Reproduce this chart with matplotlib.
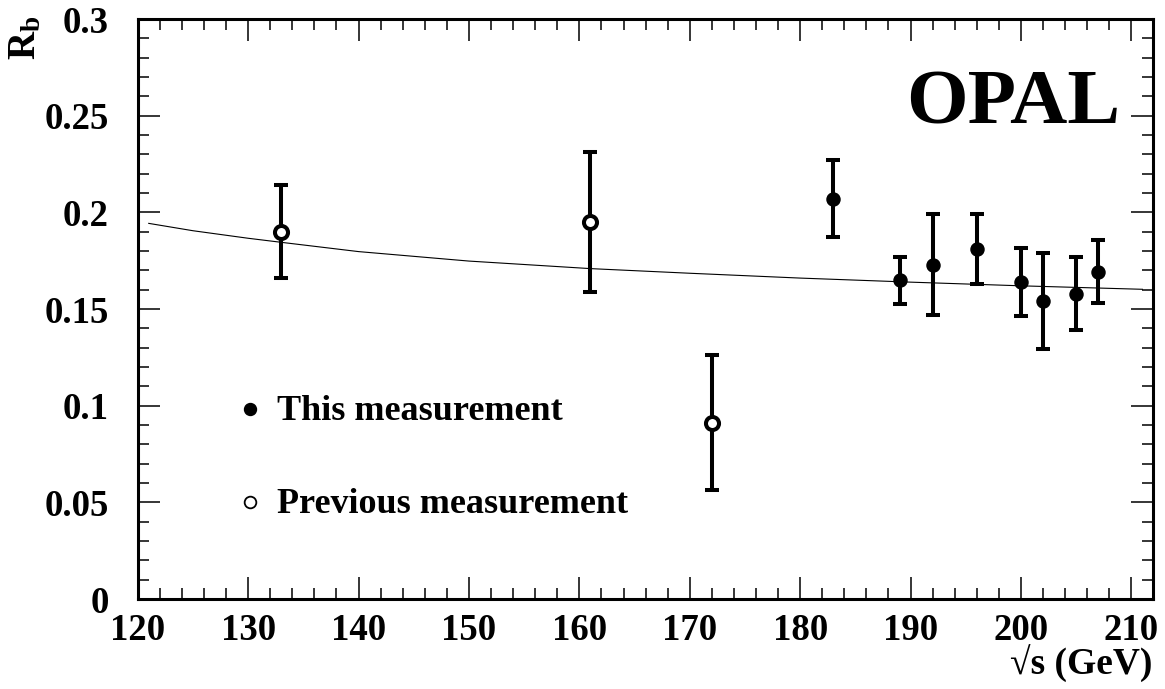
import numpy as np
import matplotlib.pyplot as plt
from matplotlib.ticker import MultipleLocator

plt.rcParams['font.family'] = ['Liberation Serif', 'DejaVu Serif']
plt.rcParams['font.weight'] = 'bold'
plt.rcParams['mathtext.fontset'] = 'custom'
plt.rcParams['mathtext.rm'] = 'Liberation Serif:bold'
plt.rcParams['mathtext.bf'] = 'Liberation Serif:bold'
plt.rcParams['mathtext.it'] = 'Liberation Serif:bold'

# previous OPAL measurements (open circles)
prev_x = [133, 161, 172]
prev_y = [0.190, 0.195, 0.091]
prev_lo = [0.166, 0.159, 0.0565]
prev_hi = [0.214, 0.231, 0.126]

# this measurement (filled)
new_x = [183, 189, 192, 196, 200, 202, 205, 207]
new_y = [0.207, 0.165, 0.173, 0.181, 0.164, 0.154, 0.158, 0.169]
new_lo = [0.187, 0.1525, 0.147, 0.163, 0.1465, 0.1295, 0.139, 0.153]
new_hi = [0.227, 0.177, 0.199, 0.199, 0.1815, 0.179, 0.177, 0.1855]

# SM prediction curve
sm_x = [121, 125, 130, 133, 140, 150, 161, 170, 180, 190, 200, 211]
sm_y = [0.1943, 0.1905, 0.1866, 0.1845, 0.1797, 0.1748, 0.1709, 0.1685, 0.1660, 0.1639, 0.1620, 0.1602]

fig = plt.figure(figsize=(11.65, 6.89), dpi=100)
ax = fig.add_axes([0.1182, 0.1306, 0.8719, 0.8418])

ax.plot(sm_x, sm_y, color='black', lw=0.8, zorder=2)

def yerr(y, lo, hi):
    return [np.array(y) - np.array(lo), np.array(hi) - np.array(y)]

ax.errorbar(prev_x, prev_y, yerr=yerr(prev_y, prev_lo, prev_hi), fmt='o',
            color='black', mfc='white', mec='black', ms=9.4, mew=2.9,
            elinewidth=2.9, capsize=5, capthick=2.9, zorder=3)
ax.errorbar(new_x, new_y, yerr=yerr(new_y, new_lo, new_hi), fmt='o',
            color='black', ms=9.4, elinewidth=2.9, capsize=5, capthick=2.9,
            zorder=3)

# legend drawn by hand like the original
ax.plot([130.2], [0.0983], 'o', color='black', ms=8.6)
ax.plot([130.2], [0.0503], 'o', mfc='white', mec='black', ms=8.4, mew=1.3)
ax.text(132.6, 0.0926, 'This measurement', fontsize=26, fontweight='bold')
ax.text(132.6, 0.0443, 'Previous measurement', fontsize=26, fontweight='bold')

ax.text(209.0, 0.246, 'OPAL', fontsize=57, fontweight='bold', ha='right', va='baseline')

ax.set_xlim(120, 212)
ax.set_ylim(0, 0.3)
ax.xaxis.set_major_locator(MultipleLocator(10))
ax.xaxis.set_minor_locator(MultipleLocator(2))
ax.yaxis.set_major_locator(MultipleLocator(0.05))
ax.yaxis.set_minor_locator(MultipleLocator(0.01))
ax.set_yticks([0, 0.05, 0.1, 0.15, 0.2, 0.25, 0.3])
ax.set_yticklabels(['0', '0.05', '0.1', '0.15', '0.2', '0.25', '0.3'])
ax.set_xticks(range(120, 211, 10))

ax.tick_params(which='both', direction='in', top=True, right=True, width=1.1,
               labelsize=26.5)
ax.tick_params(which='major', length=15.8)
ax.tick_params(which='minor', length=7.9)
ax.tick_params(axis='x', pad=10)
ax.tick_params(axis='y', pad=21)
for lbl in ax.get_xticklabels() + ax.get_yticklabels():
    lbl.set_fontweight('bold')
for sp in ax.spines.values():
    sp.set_linewidth(2.2)

fig.text(0.989, 0.008, '\u221as (GeV)', fontsize=27, fontweight='bold', ha='right', va='bottom')
fig.text(0.006, 0.978, r'$\mathbf{R_b}$', fontsize=28, rotation=90, ha='left', va='top')

fig.savefig('out.png', dpi=100)
